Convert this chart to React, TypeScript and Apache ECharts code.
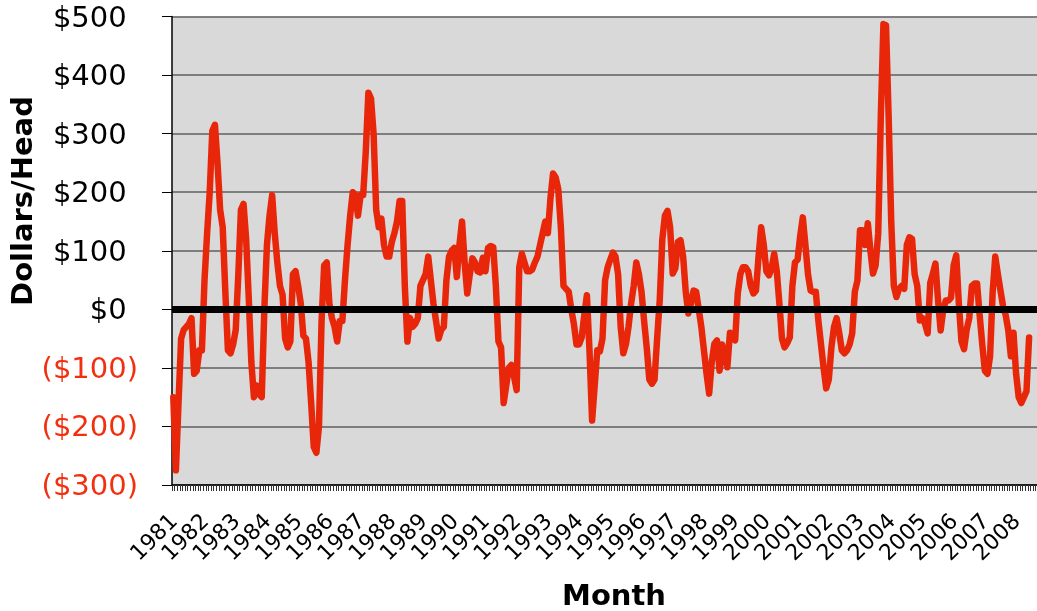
import React, { useEffect, useRef } from "react";
import * as echarts from "echarts";

// Tick labels (one per January)
const years: number[] = [
  1981, 1982, 1983, 1984, 1985, 1986, 1987, 1988, 1989, 1990, 1991, 1992, 1993, 1994,
  1995, 1996, 1997, 1998, 1999, 2000, 2001, 2002, 2003, 2004, 2005, 2006, 2007, 2008,
];
const monthNames: string[] = ["01", "02", "03", "04", "05", "06", "07", "08", "09", "10", "11", "12"];

// Monthly returns, dollars per head (Jan 1981 onward)
const v1981_1984: number[] = [
  -150, -275, -160, -50, -35, -30, -25, -15, -110, -105, -70, -70,
  50, 130, 200, 305, 315, 250, 170, 140, 30, -70, -75, -60,
  -35, 60, 170, 180, 120, 20, -90, -150, -130, -145, -150, 0,
  110, 160, 195, 130, 80, 40, 25, -50, -65, -55, 60, 65,
];
const v1985_1988: number[] = [
  40, 10, -45, -50, -90, -160, -235, -245, -200, -20, 75, 80,
  10, -15, -30, -55, -20, -20, 50, 110, 160, 200, 195, 160,
  195, 195, 270, 370, 360, 300, 170, 140, 155, 110, 90, 90,
  115, 130, 150, 185, 185, 40, -55, -15, -30, -25, -15, 40,
];
const v1989_1992: number[] = [
  50, 60, 90, 50, 10, -20, -50, -35, -30, 50, 90, 100,
  105, 55, 110, 150, 80, 27, 60, 87, 80, 65, 63, 88,
  65, 105, 108, 106, 40, -55, -65, -160, -130, -100, -95, -115,
  -138, 72, 95, 80, 65, 65, 68, 80, 90, 110, 130, 150,
];
const v1993_1996: number[] = [
  130, 190, 232, 225, 205, 140, 40, 35, 30, 0, -25, -60,
  -60, -48, -10, 24, -70, -190, -130, -70, -72, -50, 50, 72,
  85, 97, 90, 60, -30, -75, -60, -30, 10, 40, 80, 60,
  30, -20, -65, -120, -127, -120, -50, 15, 120, 160, 168, 140,
];
const v1997_2000: number[] = [
  61, 70, 115, 118, 90, 30, -7, 10, 32, 30, 0, -30,
  -70, -110, -144, -90, -59, -53, -105, -60, -80, -99, -40, -45,
  -53, 27, 60, 72, 72, 65, 40, 27, 32, 90, 140, 110,
  65, 58, 70, 95, 65, 10, -50, -65, -58, -48, 40, 80,
];
const v2001_2004: number[] = [
  85, 125, 157, 110, 60, 32, 30, 30, -20, -60, -100, -135,
  -120, -65, -30, -15, -40, -70, -75, -70, -60, -41, 30, 49,
  135, 135, 110, 147, 100, 61, 75, 130, 330, 487, 485, 330,
  150, 40, 21, 35, 40, 35, 110, 123, 120, 60, 40, -19,
];
const v2005_2008: number[] = [
  -15, -25, -41, 45, 61, 78, 15, -36, 0, 15, 15, 20,
  75, 92, 10, -55, -68, -35, -15, 40, 44, 44, -10, -60,
  -105, -110, -80, 30, 90, 60, 32, 5, -10, -36, -80, -40,
  -110, -150, -160, -150, -140, -48,
];

const values: number[] = [
  ...v1981_1984, ...v1985_1988, ...v1989_1992, ...v1993_1996,
  ...v1997_2000, ...v2001_2004, ...v2005_2008,
];

const categories: string[] = [];
years.forEach((y) => monthNames.forEach((m) => categories.push(`${y}-${m}`)));

const yTicks: number[] = [-300, -200, -100, 0, 100, 200, 300, 400, 500];

export default function App() {
  const ref = useRef<HTMLDivElement>(null);
  useEffect(() => {
    if (!ref.current) return;
    const chart = echarts.init(ref.current, null, { renderer: "svg" });
    const font = "'DejaVu Sans', Verdana, sans-serif";
    chart.setOption({
      animation: false,
      textStyle: { fontFamily: font },
      grid: {
        left: 172,
        top: 16.5,
        width: 874,
        height: 468.5,
        show: true,
        backgroundColor: "#d9d9d9",
        borderWidth: 0,
        containLabel: false,
        outerBoundsMode: "none",
      },
      xAxis: {
        type: "category",
        data: categories,
        boundaryGap: true,
        axisLine: { show: true, onZero: false, lineStyle: { color: "#000", width: 1.5 } },
        axisTick: { show: true, interval: 0, length: 6, lineStyle: { color: "#333", width: 1 } },
        axisLabel: {
          interval: (idx: number) => idx % 12 === 0,
          formatter: (v: string) => v.slice(0, 4),
          rotate: 45,
          margin: 32,
          fontSize: 22,
          color: "#000",
          fontFamily: font,
          hideOverlap: false,
        },
        splitLine: { show: false },
      },
      yAxis: {
        type: "value",
        min: yTicks[0],
        max: yTicks[yTicks.length - 1],
        interval: 100,
        axisLine: { show: true, lineStyle: { color: "#000", width: 1.5 } },
        axisTick: { show: true, length: 10, lineStyle: { color: "#000", width: 1 } },
        splitLine: { show: true, lineStyle: { color: "#5f5f5f", width: 1.5 } },
        axisLabel: {
          margin: 34,
          fontSize: 29,
          fontFamily: font,
          formatter: (v: number) =>
            v < 0 ? `{n|($${Math.abs(v)})}` : `{p|$${v}}{h|)}`,
          rich: {
            n: { color: "#f2300f", fontSize: 29, fontFamily: font },
            p: { color: "#000", fontSize: 29, fontFamily: font },
            h: { color: "rgba(0,0,0,0)", fontSize: 29, fontFamily: font },
          },
        },
      },
      graphic: [
        {
          type: "text",
          x: 22,
          y: 201,
          rotation: Math.PI / 2,
          style: {
            text: "Dollars/Head",
            font: `bold 29px ${font}`,
            fill: "#000",
            align: "center",
            verticalAlign: "middle",
          },
        },
        {
          type: "text",
          x: 614,
          y: 595,
          style: {
            text: "Month",
            font: `bold 29px ${font}`,
            fill: "#000",
            align: "center",
            verticalAlign: "middle",
          },
        },
      ],
      series: [
        {
          type: "line",
          data: values,
          showSymbol: false,
          symbol: "none",
          z: 3,
          lineStyle: { color: "#e8270a", width: 6.5, cap: "round", join: "round" },
        },
        {
          type: "line",
          data: [],
          z: 5,
          markLine: {
            silent: true,
            symbol: ["none", "none"],
            label: { show: false },
            lineStyle: { color: "#000", width: 7, type: "solid" },
            data: [{ yAxis: 0 }],
          },
        },
      ],
    });
    return () => chart.dispose();
  }, []);
  return (
    <div
      ref={ref}
      style={{ position: "fixed", left: 0, top: 0, width: 1037, height: 611 }}
    />
  );
}
